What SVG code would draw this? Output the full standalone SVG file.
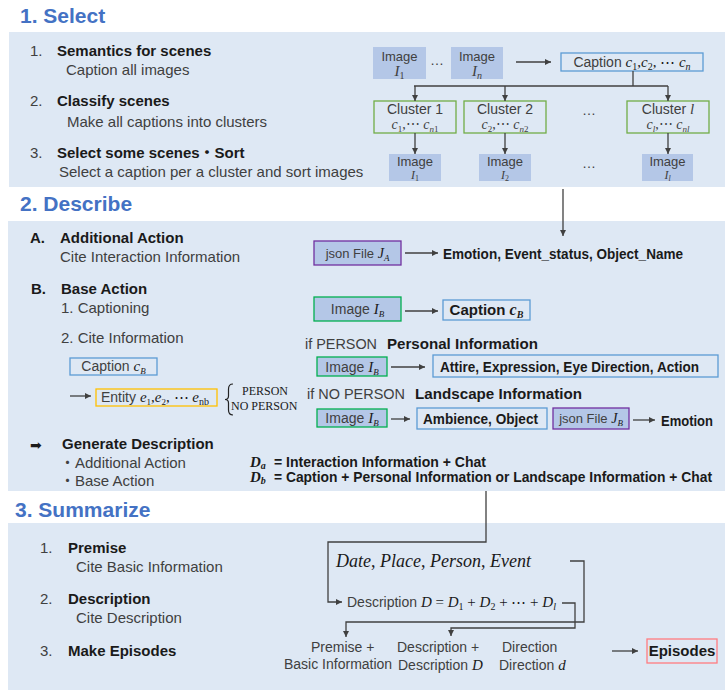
<svg xmlns="http://www.w3.org/2000/svg" width="725" height="690" viewBox="0 0 725 690">
<defs>
<marker id="ah" viewBox="0 0 6 6" refX="6" refY="3" markerWidth="6" markerHeight="6" markerUnits="userSpaceOnUse" orient="auto"><path d="M0,0 L6,3 L0,6 z" fill="#404040"/></marker>
<style>
.panel{fill:#dee8f4}
.h{font-family:"Liberation Sans",Arial,sans-serif;font-weight:bold;font-size:21px;fill:#4472c4}
.b{font-family:"Liberation Sans",Arial,sans-serif;font-weight:bold;font-size:15px;fill:#1a1a1a}
.b14{font-family:"Liberation Sans",Arial,sans-serif;font-weight:bold;font-size:14px;fill:#1a1a1a}
.r{font-family:"Liberation Sans","Noto Sans CJK JP",Arial,sans-serif;font-size:15px;fill:#404040}
.r14{font-family:"Liberation Sans",Arial,sans-serif;font-size:14px;fill:#404040}
.s{font-family:"Liberation Sans",Arial,sans-serif;font-size:13px;fill:#404040}
.m{font-family:"Liberation Serif","DejaVu Serif",serif;font-style:italic}
.u{font-family:"Liberation Serif","DejaVu Serif",serif;font-style:normal}
.mb{font-family:"Liberation Serif","DejaVu Serif",serif;font-style:italic;font-weight:bold}
.img{fill:#b4c7e7}
.cap{fill:none;stroke:#5b9bd5;stroke-width:1.3}
.clu{fill:none;stroke:#70ad47;stroke-width:1.3}
.grn{fill:#b4c7e7;stroke:#00b050;stroke-width:1.3}
.pur{fill:#b4c7e7;stroke:#7030a0;stroke-width:1.3}
.ent{fill:none;stroke:#ffc000;stroke-width:1.3}
.epi{fill:none;stroke:#ff7c80;stroke-width:1.3}
.ln{stroke:#404040;stroke-width:1.3;fill:none}
.arr{stroke:#404040;stroke-width:1.3;fill:none;marker-end:url(#ah)}
.mid{text-anchor:middle}
</style>
</defs>

<!-- panels -->
<rect class="panel" x="9" y="32" width="716" height="155"/>
<rect class="panel" x="8" y="221" width="717" height="270"/>
<rect class="panel" x="8" y="523" width="717" height="167"/>

<text class="h" x="20" y="23">1. Select</text>
<text class="h" x="20" y="211">2. Describe</text>
<text class="h" x="15" y="517">3. Summarize</text>

<!-- Section 1 left -->
<g id="s1-steps">
<text class="r" x="30" y="56">1.</text>
<text class="b" x="57" y="56">Semantics for scenes</text>
<text class="r" x="66" y="75">Caption all images</text>
<text class="r" x="30" y="106">2.</text>
<text class="b" x="57" y="106">Classify scenes</text>
<text class="r" x="67" y="127">Make all captions into clusters</text>
<text class="r" x="30" y="158">3.</text>
<text class="b" x="57" y="158">Select some scenes<tspan font-family="Noto Sans CJK JP">・</tspan>Sort</text>
<text class="r" x="59" y="177">Select a caption per a cluster and sort images</text>
</g>

<g id="img1">
<rect class="img" x="373" y="47" width="53" height="32"/>
<text class="s mid" x="399.5" y="61">Image</text>
<text class="s mid" x="399.5" y="76" fill="#1a1a1a"><tspan class="m" font-size="15">I</tspan><tspan class="u" font-size="10" dy="3">1</tspan></text>
</g>
<text class="r14" x="430" y="65" fill="#404040">…</text>
<g id="imgn">
<rect class="img" x="451" y="47" width="52" height="32"/>
<text class="s mid" x="477" y="61">Image</text>
<text class="s mid" x="477" y="76" fill="#1a1a1a"><tspan class="m" font-size="15">I</tspan><tspan class="m" font-size="10" dy="3">n</tspan></text>
</g>
<g id="caption-all">
<rect class="cap" x="561" y="53" width="142" height="18"/>
<text class="r14 mid" x="632" y="67">Caption <tspan class="m" font-size="15" fill="#1a1a1a">c</tspan><tspan class="u" font-size="10" dy="3" fill="#1a1a1a">1</tspan><tspan class="u" font-size="15" dy="-3" fill="#1a1a1a">,</tspan><tspan class="m" font-size="15" fill="#1a1a1a">c</tspan><tspan class="u" font-size="10" dy="3" fill="#1a1a1a">2</tspan><tspan class="u" font-size="15" dy="-3" fill="#1a1a1a">, ⋯ </tspan><tspan class="m" font-size="15" fill="#1a1a1a">c</tspan><tspan class="m" font-size="10" dy="3" fill="#1a1a1a">n</tspan></text>
</g>

<g id="cluster1">
<rect class="clu" x="374" y="101" width="82" height="32"/>
<text class="r14 mid" x="415" y="114">Cluster 1</text>
<text class="r14 mid" x="415" y="129" fill="#1a1a1a"><tspan class="m">c</tspan><tspan class="u" font-size="9" dy="3">1</tspan><tspan class="u" dy="-3">,⋯ </tspan><tspan class="m">c</tspan><tspan class="m" font-size="9" dy="3">n</tspan><tspan class="u" font-size="9">1</tspan></text>
</g>
<g id="cluster2">
<rect class="clu" x="464" y="101" width="82" height="32"/>
<text class="r14 mid" x="505" y="114">Cluster 2</text>
<text class="r14 mid" x="505" y="129" fill="#1a1a1a"><tspan class="m">c</tspan><tspan class="u" font-size="9" dy="3">2</tspan><tspan class="u" dy="-3">,⋯ </tspan><tspan class="m">c</tspan><tspan class="m" font-size="9" dy="3">n</tspan><tspan class="u" font-size="9">2</tspan></text>
</g>
<text class="r14" x="582" y="115">…</text>
<g id="clusterl">
<rect class="clu" x="627" y="101" width="82" height="32"/>
<text class="r14 mid" x="668" y="114">Cluster <tspan class="m" font-size="15">l</tspan></text>
<text class="r14 mid" x="668" y="129" fill="#1a1a1a"><tspan class="m">c</tspan><tspan class="m" font-size="9" dy="3">l</tspan><tspan class="u" dy="-3">,⋯ </tspan><tspan class="m">c</tspan><tspan class="m" font-size="9" dy="3">nl</tspan></text>
</g>

<g id="sel1">
<rect class="img" x="389" y="154" width="52" height="27"/>
<text class="s mid" x="415" y="166" font-size="12.5">Image</text>
<text class="s mid" x="415" y="179" fill="#1a1a1a"><tspan class="m" font-size="12">I</tspan><tspan class="u" font-size="8" dy="2">1</tspan></text>
</g>
<g id="sel2">
<rect class="img" x="479" y="154" width="52" height="27"/>
<text class="s mid" x="505" y="166" font-size="12.5">Image</text>
<text class="s mid" x="505" y="179" fill="#1a1a1a"><tspan class="m" font-size="12">I</tspan><tspan class="u" font-size="8" dy="2">2</tspan></text>
</g>
<text class="r14" x="582" y="168">…</text>
<g id="sell">
<rect class="img" x="642" y="154" width="51" height="27"/>
<text class="s mid" x="667.5" y="166" font-size="12.5">Image</text>
<text class="s mid" x="667.5" y="179" fill="#1a1a1a"><tspan class="m" font-size="12">I</tspan><tspan class="m" font-size="8" dy="2">l</tspan></text>
</g>

<!-- Section 2 left -->
<g id="s2-steps">
<text class="b" x="30" y="243">A.</text>
<text class="b" x="60" y="243">Additional Action</text>
<text class="r" x="60" y="262">Cite Interaction Information</text>
<text class="b" x="31" y="294">B.</text>
<text class="b" x="61" y="294">Base Action</text>
<text class="r" x="61" y="313">1. Captioning</text>
<text class="r" x="61" y="343">2. Cite Information</text>
</g>

<g id="jsonA">
<rect class="pur" x="314" y="241" width="87" height="24"/>
<text class="s mid" x="357.5" y="258">json File <tspan class="m" font-size="14" fill="#1a1a1a">J</tspan><tspan class="m" font-size="9" dy="3" fill="#1a1a1a">A</tspan></text>
</g>
<text class="b" x="443" y="259" font-size="14" textLength="240" lengthAdjust="spacingAndGlyphs">Emotion, Event_status, Object_Name</text>

<g id="imgB1">
<rect class="grn" x="314" y="297" width="87" height="24"/>
<text class="r14 mid" x="357.5" y="314">Image <tspan class="m" font-size="15" fill="#1a1a1a">I</tspan><tspan class="m" font-size="9" dy="3" fill="#1a1a1a">B</tspan></text>
</g>
<g id="capB1">
<rect class="cap" x="443" y="300" width="87" height="20"/>
<text class="b mid" x="486.5" y="315">Caption <tspan class="mb" font-size="16">c</tspan><tspan class="mb" font-size="10" dy="3">B</tspan></text>
</g>

<g id="capB2">
<rect class="cap" x="70" y="358" width="87" height="17"/>
<text class="r14 mid" x="113.5" y="371">Caption <tspan class="m" font-size="15" fill="#1a1a1a">c</tspan><tspan class="m" font-size="9" dy="3" fill="#1a1a1a">B</tspan></text>
</g>
<g id="entity">
<rect class="ent" x="96" y="389" width="121" height="17"/>
<text class="r14" x="101" y="402">Entity <tspan class="m" font-size="15" fill="#1a1a1a">e</tspan><tspan class="u" font-size="9" dy="3" fill="#1a1a1a">1</tspan><tspan class="u" font-size="15" dy="-3" fill="#1a1a1a">,</tspan><tspan class="m" font-size="15" fill="#1a1a1a">e</tspan><tspan class="u" font-size="9" dy="3" fill="#1a1a1a">2</tspan><tspan class="u" font-size="15" dy="-3" fill="#1a1a1a">, ⋯ </tspan><tspan class="m" font-size="15" fill="#1a1a1a">e</tspan><tspan class="u" font-size="10" dy="3" fill="#1a1a1a">nb</tspan></text>
</g>
<g id="person-branch">
<path d="M233,384 Q228.5,384 228.5,389 L228.5,396 Q228.5,399.5 225,399.5 Q228.5,399.5 228.5,403 L228.5,410 Q228.5,415 233,415" fill="none" stroke="#222" stroke-width="1.2"/>
<text class="u" x="242" y="395" font-size="12" fill="#1a1a1a">PERSON</text>
<text class="u" x="231" y="410" font-size="12" fill="#1a1a1a">NO PERSON</text>
</g>

<text class="r" x="305" y="349" textLength="72" lengthAdjust="spacingAndGlyphs">if PERSON</text>
<text class="b" x="387" y="349" font-size="14" textLength="151" lengthAdjust="spacingAndGlyphs">Personal Information</text>
<g id="imgB2">
<rect class="grn" x="317" y="357" width="70" height="19"/>
<text class="r14 mid" x="352" y="372">Image <tspan class="m" font-size="15" fill="#1a1a1a">I</tspan><tspan class="m" font-size="9" dy="3" fill="#1a1a1a">B</tspan></text>
</g>
<g id="attire">
<rect class="cap" x="433" y="355" width="285" height="22"/>
<text class="b" x="440" y="372" font-size="13.2" textLength="259" lengthAdjust="spacingAndGlyphs">Attire, Expression, Eye Direction, Action</text>
</g>
<text class="r" x="307" y="399" textLength="98" lengthAdjust="spacingAndGlyphs">if NO PERSON</text>
<text class="b" x="415" y="399" font-size="14" textLength="167" lengthAdjust="spacingAndGlyphs">Landscape Information</text>
<g id="imgB3">
<rect class="grn" x="317" y="409" width="70" height="18"/>
<text class="r14 mid" x="352" y="423">Image <tspan class="m" font-size="15" fill="#1a1a1a">I</tspan><tspan class="m" font-size="9" dy="3" fill="#1a1a1a">B</tspan></text>
</g>
<g id="ambience">
<rect class="cap" x="417" y="408" width="130" height="21"/>
<text class="b" x="423" y="424" font-size="14" textLength="115" lengthAdjust="spacingAndGlyphs">Ambience, Object</text>
</g>
<g id="jsonB">
<rect class="pur" x="553" y="408" width="76" height="21"/>
<text class="s mid" x="591" y="423">json File <tspan class="m" font-size="14" fill="#1a1a1a">J</tspan><tspan class="m" font-size="9" dy="3" fill="#1a1a1a">B</tspan></text>
</g>
<text class="b" x="661" y="426" font-size="14" textLength="52" lengthAdjust="spacingAndGlyphs">Emotion</text>

<g id="generate">
<text x="30" y="450" font-family="DejaVu Sans,sans-serif" font-size="14" fill="#1a1a1a">➡</text>
<text class="b" x="62" y="449">Generate Description</text>
<text class="r" x="60" y="468">・Additional Action</text>
<text class="r" x="60" y="486">・Base Action</text>
<text class="mb" x="250" y="467" font-size="15" fill="#1a1a1a">D<tspan font-size="10" dy="2">a</tspan></text>
<text class="b14" x="274" y="467" textLength="212" lengthAdjust="spacingAndGlyphs">= Interaction Information + Chat</text>
<text class="mb" x="250" y="482" font-size="15" fill="#1a1a1a">D<tspan font-size="10" dy="2">b</tspan></text>
<text class="b14" x="274" y="482" textLength="438" lengthAdjust="spacingAndGlyphs">= Caption + Personal Information or Landscape Information + Chat</text>
</g>

<!-- Section 3 -->
<g id="s3-steps">
<text class="r" x="40" y="553">1.</text>
<text class="b" x="68" y="553">Premise</text>
<text class="r" x="76" y="572">Cite Basic Information</text>
<text class="r" x="40" y="604">2.</text>
<text class="b" x="68" y="604">Description</text>
<text class="r" x="76" y="623">Cite Description</text>
<text class="r" x="40" y="656">3.</text>
<text class="b" x="68" y="656">Make Episodes</text>
</g>

<g id="premise-info">
<text class="m" x="336" y="567" font-size="18" fill="#1a1a1a">Date<tspan class="u">, </tspan>Place<tspan class="u">, </tspan>Person<tspan class="u">, </tspan>Event</text>
</g>
<g id="description-sum">
<text class="r14" x="347" y="607">Description <tspan class="m" font-size="15" fill="#1a1a1a">D</tspan><tspan class="u" font-size="15" fill="#1a1a1a"> = </tspan><tspan class="m" font-size="15" fill="#1a1a1a">D</tspan><tspan class="u" font-size="10" dy="3" fill="#1a1a1a">1</tspan><tspan class="u" font-size="15" dy="-3" fill="#1a1a1a"> + </tspan><tspan class="m" font-size="15" fill="#1a1a1a">D</tspan><tspan class="u" font-size="10" dy="3" fill="#1a1a1a">2</tspan><tspan class="u" font-size="15" dy="-3" fill="#1a1a1a"> + ⋯ + </tspan><tspan class="m" font-size="15" fill="#1a1a1a">D</tspan><tspan class="m" font-size="10" dy="3" fill="#1a1a1a">l</tspan></text>
</g>
<g id="episode-parts">
<text class="r14" x="311" y="652">Premise +</text>
<text class="r14" x="284" y="669">Basic Information</text>
<text class="r14" x="397" y="652">Description +</text>
<text class="r14" x="398" y="670">Description <tspan class="m" font-size="15" fill="#1a1a1a">D</tspan></text>
<text class="r14" x="502" y="652">Direction</text>
<text class="r14" x="499" y="670">Direction <tspan class="m" font-size="15" fill="#1a1a1a">d</tspan></text>
</g>
<g id="episodes">
<rect class="epi" x="647" y="639" width="70" height="24"/>
<text class="b mid" x="682" y="656">Episodes</text>
</g>

<!-- connectors -->
<g id="connectors">
<line class="arr" x1="516" y1="62" x2="551" y2="62"/>
<polyline class="ln" points="633,71 633,86"/>
<line class="ln" x1="414" y1="86" x2="668" y2="86"/>
<line class="arr" x1="415" y1="86" x2="415" y2="101"/>
<line class="arr" x1="505" y1="86" x2="505" y2="101"/>
<line class="arr" x1="668" y1="86" x2="668" y2="101"/>
<line class="arr" x1="415" y1="133" x2="415" y2="154"/>
<line class="arr" x1="505" y1="133" x2="505" y2="154"/>
<line class="arr" x1="668" y1="133" x2="668" y2="154"/>
<line class="arr" x1="563" y1="189" x2="563" y2="236"/>
<line class="arr" x1="405" y1="253" x2="438" y2="253"/>
<line class="arr" x1="405" y1="311" x2="438" y2="311"/>
<line class="arr" x1="70" y1="396" x2="91" y2="396"/>
<line class="arr" x1="391" y1="367" x2="425" y2="367"/>
<line class="arr" x1="391" y1="419" x2="410" y2="419"/>
<line class="arr" x1="633" y1="420" x2="655" y2="420"/>
<polyline class="arr" points="486,491 486,542 328,542 328,602 342,602"/>
<polyline class="arr" points="570,561 584,561 584,622 346,622 346,637"/>
<polyline class="arr" points="562,603 575,603 575,628 451,628 451,636"/>
<line class="arr" x1="612" y1="651" x2="638" y2="651"/>
</g>
</svg>
